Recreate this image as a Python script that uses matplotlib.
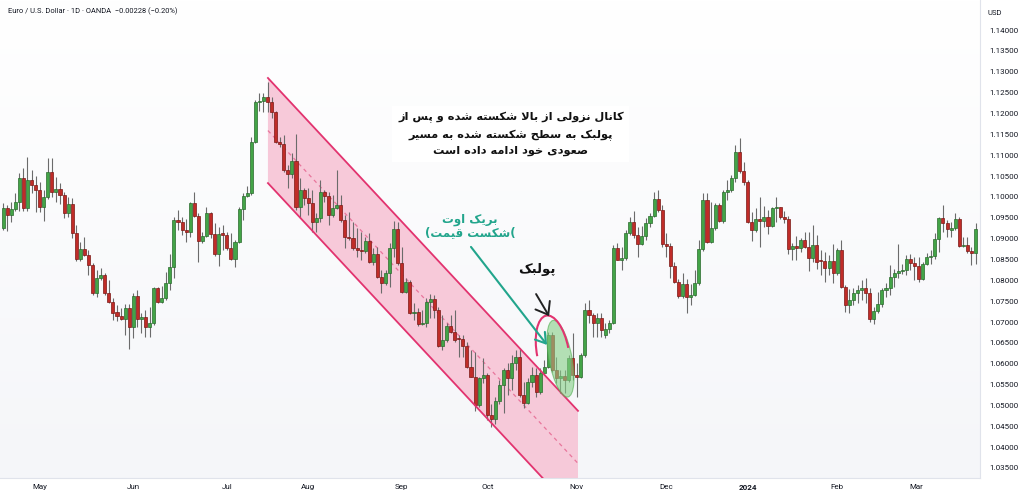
import numpy as np
import matplotlib
matplotlib.use("Agg")
import matplotlib.pyplot as plt
from matplotlib.patches import Polygon, Ellipse, Arc
from matplotlib.transforms import IdentityTransform
from matplotlib.colors import LinearSegmentedColormap

plt.rcParams['font.family'] = ['Roboto', 'DejaVu Sans']

# ---------------- data (EUR/USD daily) ----------------
opens = [1.0925, 1.0973, 1.0957, 1.0971, 1.0988, 1.1045, 1.0973, 1.1040, 1.1028, 1.1016,
         1.0976, 1.0999, 1.1060, 1.1012, 1.1019, 1.1004, 1.0961, 1.0983, 1.0913, 1.0851,
         1.0875, 1.0861, 1.0837, 1.0770, 1.0806, 1.0813, 1.0770, 1.0748, 1.0724, 1.0715,
         1.0707, 1.0734, 1.0688, 1.0762, 1.0707, 1.0711, 1.0688, 1.0698, 1.0782, 1.0748,
         1.0758, 1.0794, 1.0832, 1.0945, 1.0940, 1.0921, 1.0916, 1.0985, 1.0954, 1.0894,
         1.0906, 1.0961, 1.0911, 1.0863, 1.0913, 1.0909, 1.0877, 1.0851, 1.0892, 1.0971,
         1.1002, 1.1009, 1.1132, 1.1227, 1.1230, 1.1239, 1.1227, 1.1203, 1.1132, 1.1127,
         1.1064, 1.1055, 1.1086, 1.0976, 1.1016, 1.0997, 1.0985, 1.0940, 1.0949, 1.1012,
         1.1002, 1.0957, 1.0973, 1.0981, 1.0945, 1.0904, 1.0901, 1.0877, 1.0873, 1.0870,
         1.0894, 1.0844, 1.0863, 1.0808, 1.0794, 1.0818, 1.0877, 1.0923, 1.0841, 1.0772,
         1.0796, 1.0722, 1.0724, 1.0695, 1.0698, 1.0748, 1.0755, 1.0729, 1.0643, 1.0657,
         1.0690, 1.0676, 1.0662, 1.0660, 1.0643, 1.0592, 1.0568, 1.0501, 1.0566, 1.0573,
         1.0477, 1.0468, 1.0510, 1.0549, 1.0585, 1.0566, 1.0602, 1.0616, 1.0525, 1.0506,
         1.0556, 1.0573, 1.0532, 1.0578, 1.0592, 1.0669, 1.0585, 1.0566, 1.0570, 1.0561,
         1.0614, 1.0573, 1.0568, 1.0621, 1.0729, 1.0717, 1.0698, 1.0710, 1.0668, 1.0683,
         1.0698, 1.0877, 1.0849, 1.0853, 1.0913, 1.0940, 1.0909, 1.0887, 1.0906, 1.0937,
         1.0954, 1.0995, 1.0969, 1.0887, 1.0882, 1.0834, 1.0796, 1.0762, 1.0791, 1.0760,
         1.0765, 1.0794, 1.0875, 1.0993, 1.0892, 1.0925, 1.0981, 1.0942, 1.1012, 1.1016,
         1.1045, 1.1108, 1.1062, 1.1036, 1.0940, 1.0921, 1.0947, 1.0942, 1.0952, 1.0930,
         1.0973, 1.0976, 1.0952, 1.0947, 1.0875, 1.0882, 1.0877, 1.0897, 1.0880, 1.0853,
         1.0885, 1.0849, 1.0846, 1.0829, 1.0846, 1.0817, 1.0873, 1.0784, 1.0741, 1.0753,
         1.0770, 1.0777, 1.0782, 1.0770, 1.0707, 1.0726, 1.0743, 1.0777, 1.0782, 1.0808,
         1.0818, 1.0822, 1.0825, 1.0851, 1.0841, 1.0834, 1.0803, 1.0839, 1.0856, 1.0858,
         1.0900, 1.0950, 1.0937, 1.0920, 1.0925, 1.0947, 1.0882, 1.0885, 1.0870, 1.0866]
highs = [1.0985, 1.0980, 1.0988, 1.1009, 1.1057, 1.1069, 1.1096, 1.1064, 1.1050, 1.1036,
         1.1016, 1.1093, 1.1093, 1.1048, 1.1033, 1.1012, 1.1000, 1.0997, 1.0933, 1.0892,
         1.0904, 1.0873, 1.0842, 1.0825, 1.0830, 1.0818, 1.0801, 1.0758, 1.0740, 1.0734,
         1.0743, 1.0743, 1.0770, 1.0777, 1.0722, 1.0729, 1.0736, 1.0784, 1.0784, 1.0786,
         1.0820, 1.0863, 1.0952, 1.0969, 1.0952, 1.0947, 1.0988, 1.1012, 1.0961, 1.0916,
         1.0976, 1.0964, 1.0937, 1.0928, 1.0933, 1.0916, 1.0913, 1.0897, 1.0976, 1.1009,
         1.1026, 1.1143, 1.1232, 1.1250, 1.1250, 1.1275, 1.1239, 1.1206, 1.1143, 1.1148,
         1.1076, 1.1105, 1.1151, 1.1045, 1.1021, 1.1021, 1.1016, 1.0961, 1.1040, 1.1016,
         1.1012, 1.1004, 1.1064, 1.1004, 1.0957, 1.0964, 1.0940, 1.0925, 1.0916, 1.0904,
         1.0913, 1.0877, 1.0880, 1.0825, 1.0825, 1.0889, 1.0942, 1.0940, 1.0880, 1.0806,
         1.0801, 1.0746, 1.0734, 1.0729, 1.0758, 1.0767, 1.0765, 1.0736, 1.0717, 1.0698,
         1.0717, 1.0729, 1.0669, 1.0669, 1.0652, 1.0633, 1.0628, 1.0568, 1.0614, 1.0578,
         1.0504, 1.0520, 1.0561, 1.0590, 1.0602, 1.0621, 1.0633, 1.0638, 1.0556, 1.0566,
         1.0592, 1.0590, 1.0590, 1.0609, 1.0676, 1.0676, 1.0616, 1.0585, 1.0585, 1.0621,
         1.0674, 1.0602, 1.0626, 1.0746, 1.0753, 1.0722, 1.0722, 1.0722, 1.0698, 1.0705,
         1.0885, 1.0889, 1.0880, 1.0921, 1.0952, 1.0966, 1.0928, 1.0930, 1.0949, 1.0961,
         1.1012, 1.1016, 1.0981, 1.0913, 1.0889, 1.0844, 1.0803, 1.0818, 1.0803, 1.0791,
         1.0825, 1.0897, 1.1009, 1.1009, 1.0988, 1.0985, 1.0985, 1.1016, 1.1040, 1.1052,
         1.1124, 1.1141, 1.1084, 1.1040, 1.0964, 1.0973, 1.1000, 1.0978, 1.0969, 1.0976,
         1.1000, 1.0976, 1.0966, 1.0954, 1.0889, 1.0906, 1.0901, 1.0916, 1.0916, 1.0933,
         1.0909, 1.0873, 1.0868, 1.0861, 1.0887, 1.0877, 1.0897, 1.0789, 1.0779, 1.0782,
         1.0789, 1.0801, 1.0806, 1.0782, 1.0736, 1.0772, 1.0782, 1.0794, 1.0837, 1.0827,
         1.0887, 1.0839, 1.0861, 1.0863, 1.0856, 1.0856, 1.0844, 1.0865, 1.0873, 1.0913,
         1.0952, 1.0981, 1.0945, 1.0940, 1.0961, 1.0952, 1.0904, 1.0904, 1.0880, 1.0937]
lows = [1.0921, 1.0918, 1.0940, 1.0966, 1.0966, 1.0966, 1.0966, 1.1009, 1.0964, 1.0964,
        1.0942, 1.0995, 1.0999, 1.0988, 1.0983, 1.0949, 1.0952, 1.0901, 1.0846, 1.0846,
        1.0858, 1.0813, 1.0765, 1.0760, 1.0801, 1.0765, 1.0746, 1.0705, 1.0702, 1.0705,
        1.0669, 1.0635, 1.0662, 1.0688, 1.0674, 1.0664, 1.0664, 1.0693, 1.0746, 1.0746,
        1.0753, 1.0777, 1.0806, 1.0921, 1.0909, 1.0892, 1.0904, 1.0952, 1.0844, 1.0889,
        1.0904, 1.0901, 1.0858, 1.0834, 1.0873, 1.0873, 1.0849, 1.0832, 1.0889, 1.0945,
        1.1000, 1.1004, 1.1129, 1.1206, 1.1203, 1.1203, 1.1189, 1.1129, 1.1120, 1.1060,
        1.1021, 1.1045, 1.0969, 1.0949, 1.0981, 1.0957, 1.0916, 1.0916, 1.0940, 1.0988,
        1.0933, 1.0952, 1.0970, 1.0940, 1.0877, 1.0897, 1.0873, 1.0856, 1.0849, 1.0866,
        1.0841, 1.0837, 1.0806, 1.0770, 1.0789, 1.0784, 1.0856, 1.0837, 1.0770, 1.0770,
        1.0719, 1.0705, 1.0690, 1.0693, 1.0688, 1.0710, 1.0710, 1.0640, 1.0633, 1.0652,
        1.0674, 1.0652, 1.0616, 1.0616, 1.0590, 1.0568, 1.0487, 1.0496, 1.0554, 1.0465,
        1.0448, 1.0456, 1.0504, 1.0482, 1.0525, 1.0537, 1.0585, 1.0520, 1.0494, 1.0504,
        1.0544, 1.0520, 1.0527, 1.0573, 1.0590, 1.0580, 1.0554, 1.0530, 1.0530, 1.0556,
        1.0561, 1.0520, 1.0566, 1.0616, 1.0698, 1.0664, 1.0664, 1.0664, 1.0662, 1.0674,
        1.0695, 1.0849, 1.0825, 1.0849, 1.0909, 1.0901, 1.0856, 1.0885, 1.0897, 1.0928,
        1.0952, 1.0964, 1.0880, 1.0856, 1.0806, 1.0794, 1.0758, 1.0758, 1.0722, 1.0741,
        1.0762, 1.0789, 1.0870, 1.0889, 1.0889, 1.0921, 1.0940, 1.0937, 1.0993, 1.1012,
        1.1036, 1.1057, 1.1028, 1.0937, 1.0894, 1.0916, 1.0880, 1.0928, 1.0911, 1.0928,
        1.0940, 1.0947, 1.0937, 1.0863, 1.0849, 1.0849, 1.0868, 1.0878, 1.0822, 1.0844,
        1.0827, 1.0813, 1.0796, 1.0813, 1.0794, 1.0813, 1.0782, 1.0724, 1.0722, 1.0741,
        1.0746, 1.0753, 1.0746, 1.0700, 1.0695, 1.0722, 1.0736, 1.0760, 1.0765, 1.0784,
        1.0806, 1.0815, 1.0813, 1.0825, 1.0801, 1.0796, 1.0801, 1.0837, 1.0839, 1.0851,
        1.0868, 1.0916, 1.0904, 1.0904, 1.0921, 1.0880, 1.0880, 1.0866, 1.0837, 1.0839]
closes = [1.0973, 1.0957, 1.0971, 1.0988, 1.1045, 1.0973, 1.1040, 1.1028, 1.1016, 1.0976,
          1.0999, 1.1060, 1.1012, 1.1019, 1.1004, 1.0961, 1.0983, 1.0913, 1.0851, 1.0875,
          1.0861, 1.0837, 1.0770, 1.0806, 1.0813, 1.0770, 1.0748, 1.0722, 1.0715, 1.0707,
          1.0734, 1.0688, 1.0762, 1.0707, 1.0711, 1.0688, 1.0698, 1.0782, 1.0748, 1.0758,
          1.0794, 1.0832, 1.0945, 1.0940, 1.0921, 1.0916, 1.0985, 1.0954, 1.0894, 1.0906,
          1.0961, 1.0911, 1.0863, 1.0911, 1.0909, 1.0877, 1.0851, 1.0892, 1.0971, 1.1002,
          1.1009, 1.1132, 1.1227, 1.1230, 1.1239, 1.1227, 1.1203, 1.1132, 1.1127, 1.1064,
          1.1055, 1.1086, 1.0976, 1.1016, 1.0997, 1.0985, 1.0940, 1.0949, 1.1012, 1.1002,
          1.0957, 1.0973, 1.0981, 1.0945, 1.0904, 1.0901, 1.0877, 1.0873, 1.0870, 1.0894,
          1.0844, 1.0863, 1.0808, 1.0794, 1.0818, 1.0877, 1.0923, 1.0841, 1.0772, 1.0796,
          1.0722, 1.0724, 1.0695, 1.0698, 1.0748, 1.0755, 1.0729, 1.0643, 1.0657, 1.0690,
          1.0676, 1.0657, 1.0660, 1.0643, 1.0592, 1.0568, 1.0501, 1.0566, 1.0573, 1.0477,
          1.0468, 1.0510, 1.0549, 1.0585, 1.0566, 1.0602, 1.0616, 1.0525, 1.0506, 1.0556,
          1.0573, 1.0532, 1.0578, 1.0592, 1.0669, 1.0585, 1.0566, 1.0570, 1.0561, 1.0614,
          1.0573, 1.0568, 1.0621, 1.0729, 1.0717, 1.0698, 1.0710, 1.0681, 1.0683, 1.0698,
          1.0877, 1.0849, 1.0853, 1.0913, 1.0940, 1.0909, 1.0887, 1.0906, 1.0937, 1.0954,
          1.0995, 1.0969, 1.0887, 1.0882, 1.0834, 1.0796, 1.0762, 1.0791, 1.0760, 1.0765,
          1.0794, 1.0875, 1.0993, 1.0892, 1.0925, 1.0981, 1.0942, 1.1012, 1.1016, 1.1045,
          1.1108, 1.1062, 1.1036, 1.0940, 1.0921, 1.0947, 1.0942, 1.0952, 1.0930, 1.0973,
          1.0976, 1.0952, 1.0947, 1.0875, 1.0882, 1.0877, 1.0897, 1.0880, 1.0853, 1.0885,
          1.0844, 1.0846, 1.0829, 1.0846, 1.0817, 1.0873, 1.0784, 1.0741, 1.0753, 1.0770,
          1.0777, 1.0782, 1.0770, 1.0707, 1.0726, 1.0743, 1.0777, 1.0782, 1.0808, 1.0818,
          1.0822, 1.0825, 1.0851, 1.0841, 1.0834, 1.0803, 1.0839, 1.0856, 1.0858, 1.0900,
          1.0950, 1.0937, 1.0923, 1.0925, 1.0947, 1.0882, 1.0885, 1.0870, 1.0866, 1.0923]

month_labels = ['May', 'Jun', 'Jul', 'Aug', 'Sep', 'Oct', 'Nov', 'Dec', '2024', 'Feb', 'Mar']
month_pos = [9, 32, 55, 75, 98, 119, 141, 163, 183, 205, 224.5]
price_ticks = [1.035 + 0.005 * k for k in range(22)]

# channel (annotation drawn by the author)
chan_x0, chan_x1 = 65.1, 141.3
chan_top0, chan_top1 = 1.1285, 1.0487
chan_width = 0.0252

title = 'Euro / U.S. Dollar \u00b7 1D \u00b7 OANDA  \u22120.00228 (\u22120.20%)'
note_lines = ['کانال نزولی از بالا شکسته شده و پس از',
              'پولبک به سطح شکسته شده به مسیر',
              'صعودی خود ادامه داده است']
breakout_1 = 'بریک اوت'
breakout_2 = 'شکست قیمت'
pullback = 'پولبک'

# ---------------- simple Persian shaping ----------------
F = {
    'ا': ('\uFE8D', '\uFE8E', None, None), 'ب': ('\uFE8F', '\uFE90', '\uFE91', '\uFE92'),
    'پ': ('\uFB56', '\uFB57', '\uFB58', '\uFB59'), 'ت': ('\uFE95', '\uFE96', '\uFE97', '\uFE98'),
    'ث': ('\uFE99', '\uFE9A', '\uFE9B', '\uFE9C'), 'ج': ('\uFE9D', '\uFE9E', '\uFE9F', '\uFEA0'),
    'چ': ('\uFB7A', '\uFB7B', '\uFB7C', '\uFB7D'), 'ح': ('\uFEA1', '\uFEA2', '\uFEA3', '\uFEA4'),
    'خ': ('\uFEA5', '\uFEA6', '\uFEA7', '\uFEA8'), 'د': ('\uFEA9', '\uFEAA', None, None),
    'ذ': ('\uFEAB', '\uFEAC', None, None), 'ر': ('\uFEAD', '\uFEAE', None, None),
    'ز': ('\uFEAF', '\uFEB0', None, None), 'ژ': ('\uFB8A', '\uFB8B', None, None),
    'س': ('\uFEB1', '\uFEB2', '\uFEB3', '\uFEB4'), 'ش': ('\uFEB5', '\uFEB6', '\uFEB7', '\uFEB8'),
    'ص': ('\uFEB9', '\uFEBA', '\uFEBB', '\uFEBC'), 'ض': ('\uFEBD', '\uFEBE', '\uFEBF', '\uFEC0'),
    'ط': ('\uFEC1', '\uFEC2', '\uFEC3', '\uFEC4'), 'ظ': ('\uFEC5', '\uFEC6', '\uFEC7', '\uFEC8'),
    'ع': ('\uFEC9', '\uFECA', '\uFECB', '\uFECC'), 'غ': ('\uFECD', '\uFECE', '\uFECF', '\uFED0'),
    'ف': ('\uFED1', '\uFED2', '\uFED3', '\uFED4'), 'ق': ('\uFED5', '\uFED6', '\uFED7', '\uFED8'),
    'ک': ('\uFB8E', '\uFB8F', '\uFB90', '\uFB91'), 'گ': ('\uFB92', '\uFB93', '\uFB94', '\uFB95'),
    'ل': ('\uFEDD', '\uFEDE', '\uFEDF', '\uFEE0'), 'م': ('\uFEE1', '\uFEE2', '\uFEE3', '\uFEE4'),
    'ن': ('\uFEE5', '\uFEE6', '\uFEE7', '\uFEE8'), 'و': ('\uFEED', '\uFEEE', None, None),
    'ه': ('\uFEE9', '\uFEEA', '\uFEEB', '\uFEEC'), 'ی': ('\uFBFC', '\uFBFD', '\uFBFE', '\uFBFF'),
}


def shape(text):
    chars = list(text)
    out = []
    i = 0
    n = len(chars)
    while i < n:
        c = chars[i]
        if c not in F:
            out.append(c)
            i += 1
            continue
        prev = chars[i - 1] if i > 0 else None
        prev_join = prev in F and F[prev][2] is not None
        if c == 'ل' and i + 1 < n and chars[i + 1] == 'ا':
            out.append('\uFEFC' if prev_join else '\uFEFB')
            i += 2
            continue
        nxt = chars[i + 1] if i + 1 < n else None
        next_join = nxt in F and F[c][2] is not None
        iso, fin, ini, med = F[c]
        if prev_join and next_join:
            out.append(med)
        elif prev_join:
            out.append(fin)
        elif next_join:
            out.append(ini)
        else:
            out.append(iso)
        i += 1
    return ''.join(out)[::-1]


# ---------------- figure ----------------
W, H = 1024, 495
fig = plt.figure(figsize=(W / 100, H / 100), dpi=100, facecolor='white')
ax = fig.add_axes([0, 17 / H, 980 / W, 478 / H])

x = np.arange(len(closes))
o = np.array(opens)
c = np.array(closes)
h = np.array(highs)
l = np.array(lows)

# subtle background gradient
grad = LinearSegmentedColormap.from_list('bg', ['#f5f6f9', '#ffffff'])
ax.imshow(np.linspace(0, 1, 256).reshape(-1, 1), cmap=grad, origin='lower',
          extent=(0, 1, 0, 1), transform=ax.transAxes, aspect='auto', zorder=0)
ax.set_xlim(-0.75, 240.1)
ax.set_ylim(1.0326, 1.1472)

# channel
pink_line = '#e2336f'
poly = Polygon([(chan_x0, chan_top0), (chan_x1, chan_top1),
                (chan_x1, chan_top1 - chan_width), (chan_x0, chan_top0 - chan_width)],
               closed=True, facecolor='#f7c4d6', edgecolor='none', alpha=0.9, zorder=1)
ax.add_patch(poly)
ax.plot([chan_x0, chan_x1], [chan_top0, chan_top1], color=pink_line, lw=1.3, zorder=4)
ax.plot([chan_x0, chan_x1], [chan_top0 - chan_width, chan_top1 - chan_width],
        color=pink_line, lw=1.3, zorder=4)
ax.plot([chan_x0, chan_x1], [chan_top0 - chan_width / 2, chan_top1 - chan_width / 2],
        color='#e8769c', lw=0.9, ls=(0, (3, 3)), zorder=2)

# candles
up = c >= o
green, green_e = '#43a447', '#2a6a2d'
red, red_e = '#c02c28', '#7a1815'
ax.vlines(x, l, h, color='#6b6b6b', lw=0.8, zorder=3)
body_bot = np.minimum(o, c)
body_h = np.maximum(np.abs(c - o), 0.00018)
ax.bar(x[up], body_h[up], bottom=body_bot[up], width=0.75, color=green,
       edgecolor=green_e, linewidth=0.5, zorder=3)
ax.bar(x[~up], body_h[~up], bottom=body_bot[~up], width=0.75, color=red,
       edgecolor=red_e, linewidth=0.5, zorder=3)

# axes styling
for s in ['top', 'left']:
    ax.spines[s].set_visible(False)
ax.spines['right'].set_color('#e0e3eb')
ax.spines['bottom'].set_color('#e0e3eb')
ax.spines['right'].set_linewidth(0.8)
ax.spines['bottom'].set_linewidth(0.8)
ax.yaxis.tick_right()
ax.set_yticks(price_ticks)
ax.set_yticklabels([f'{p:.5f}' for p in price_ticks])
ax.tick_params(axis='y', length=0, pad=7, labelsize=5.8, labelcolor='#131722')
ax.set_xticks(month_pos)
ax.set_xticklabels(month_labels)
ax.tick_params(axis='x', length=0, pad=4, labelsize=5.8, labelcolor='#131722')
for t in ax.get_xticklabels():
    if t.get_text() == '2024':
        t.set_fontweight('bold')

ax.text(0.008, 0.977, title, transform=ax.transAxes, fontsize=5.4, color='#131722',
        va='center', ha='left', zorder=6)
fig.text(988 / W, 1 - 13 / H, 'USD', fontsize=5.5, color='#131722', va='center', ha='left')

# ---------------- annotations ----------------
persian = ['DejaVu Sans']
ax.text(124.8, 1.1150, '\n'.join(shape(s) for s in note_lines), family=persian,
        fontsize=8.2, fontweight='bold', color='#111111', ha='center', va='center',
        multialignment='center', linespacing=1.7, zorder=7,
        bbox=dict(boxstyle='square,pad=0.5', fc='white', ec='none'))

teal = '#22a58c'
ax.text(114.8, 1.0930, shape(breakout_1) + '\n(' + shape(breakout_2) + '(', family=persian,
        fontsize=8.5, fontweight='bold', color=teal, ha='center', va='center',
        multialignment='center', linespacing=1.05, zorder=7)
ax.annotate('', xy=(133.7, 1.0645), xytext=(115.0, 1.0880),
            arrowprops=dict(arrowstyle='->,head_length=0.7,head_width=0.45', color=teal,
                            lw=1.5, shrinkA=0, shrinkB=0), zorder=7)

ax.text(131.3, 1.0825, shape(pullback), family=persian, fontsize=9.5, fontweight='bold',
        color='#111111', ha='center', va='center', zorder=7)
ax.annotate('', xy=(134.2, 1.0714), xytext=(131.0, 1.0767),
            arrowprops=dict(arrowstyle='->,head_length=0.8,head_width=0.6', color='#222222',
                            lw=1.4, shrinkA=0, shrinkB=0), zorder=7)

# green ellipse and pink arc (pixel-sized shapes anchored at data points)
ex, ey = ax.transData.transform((137.0, 1.0612))
ell = Ellipse((ex, ey), width=23, height=78, angle=11, transform=IdentityTransform(),
              facecolor='#86cf86', edgecolor='#4fae4f', lw=0.8, alpha=0.6, zorder=5)
ax.add_artist(ell)
axc, ayc = ax.transData.transform((135.1, 1.0628))
arc = Arc((axc, ayc), width=32, height=74, angle=10, theta1=5, theta2=185,
          transform=IdentityTransform(), color=pink_line, lw=1.5, zorder=6)
ax.add_artist(arc)

fig.savefig('out.png', dpi=100)
